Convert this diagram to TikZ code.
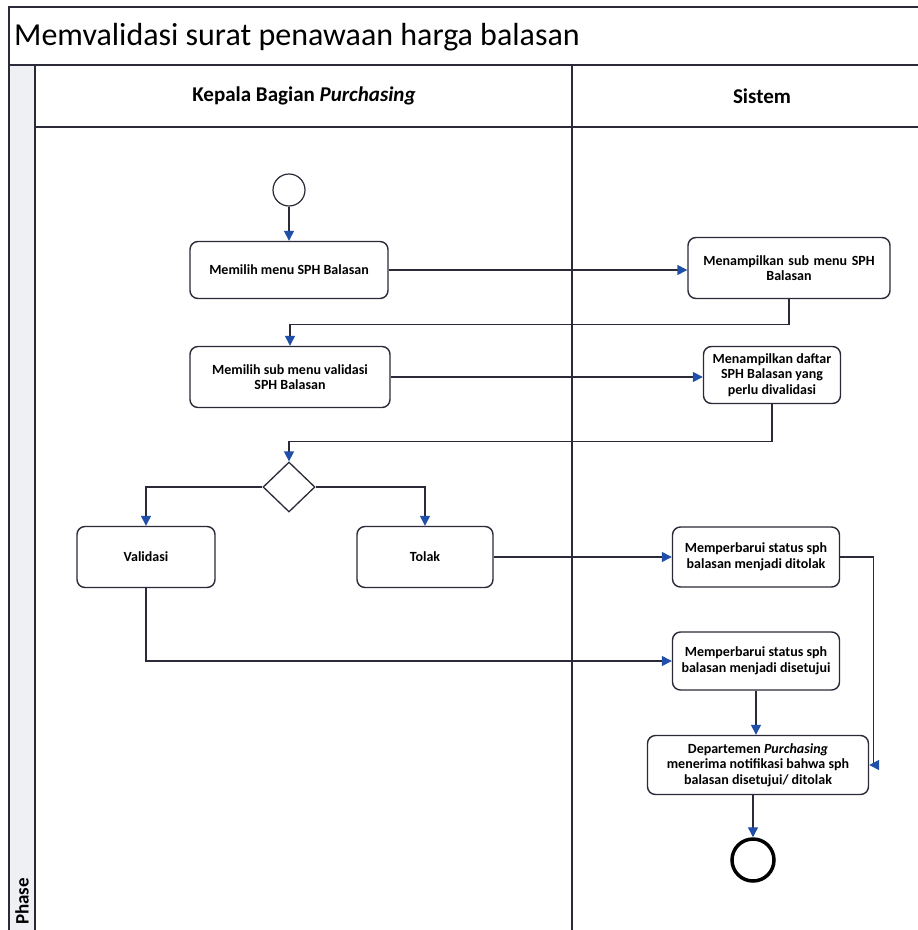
\documentclass[tikz,border=0pt]{standalone}
\usepackage{fontspec}
\setmainfont{Carlito}
\usetikzlibrary{arrows.meta,shapes.geometric}
\definecolor{linec}{HTML}{2A2A38}
\definecolor{arrowblue}{HTML}{1F4FA8}
\definecolor{stripc}{HTML}{EEF0F4}
\tikzset{
  act/.style={draw=linec, line width=1.4pt, rounded corners=8pt, fill=white, align=center,
    font=\fontsize{14}{15.5}\selectfont\bfseries, inner sep=1pt},
  flow/.style={draw=linec, line width=1.4pt, -{Triangle[length=10pt,width=10pt,color=arrowblue,fill=arrowblue]}},
  frame/.style={draw=linec, line width=2pt},
}
\begin{document}
\begin{tikzpicture}[x=1pt,y=-1pt]
\useasboundingbox (0,0) rectangle (918,930);
% background
\fill[white] (0,0) rectangle (918,930);
\fill[stripc] (9,65) rectangle (35,930);
% frame lines
\draw[frame] (9,930) -- (9,7) -- (918,7);
\draw[frame, line width=2.6pt] (9,65) -- (918,65);
\draw[frame] (35,65) -- (35,930);
\draw[frame, line width=2.6pt] (35,127) -- (918,127);
\draw[frame] (572,65) -- (572,930);
% title and headers
\node[anchor=west, font=\fontsize{32}{36}\selectfont, inner sep=0pt] (title) at (14,37) {Memvalidasi surat penawaan harga balasan};
\node[font=\fontsize{21}{24}\selectfont\bfseries] (lane1) at (304,96) {Kepala Bagian \textit{Purchasing}};
\node[font=\fontsize{21}{24}\selectfont\bfseries] (lane2) at (762,96) {Sistem};
\node[rotate=90, anchor=west, font=\fontsize{19}{21}\selectfont\bfseries, inner sep=1pt] (phase) at (22,926) {Phase};
% nodes
\node[draw=linec, line width=1.2pt, circle, minimum size=32pt, inner sep=0pt, fill=white] (start) at (289,190) {};
\node[act, minimum width=198pt, minimum height=57pt] (A1) at (289,270) {Memilih menu SPH Balasan};
\node[act, minimum width=202pt, minimum height=61pt, text width=195pt] (S1) at (789,268) {Menampilkan sub menu SPH\\Balasan};
\node[act, minimum width=200pt, minimum height=61pt] (A2) at (290,377) {Memilih sub menu validasi\\SPH Balasan};
\node[act, minimum width=137pt, minimum height=57pt, inner sep=0pt] (S2) at (772,375) {Menampilkan daftar\\SPH Balasan yang\\perlu divalidasi};
\node[draw=linec, line width=1.3pt, diamond, minimum width=52pt, minimum height=50pt, inner sep=0pt, fill=white] (D) at (289,487) {};
\node[act, minimum width=138pt, minimum height=61pt] (V) at (146,557) {Validasi};
\node[act, minimum width=136pt, minimum height=61pt] (T) at (425,557) {Tolak};
\node[act, minimum width=167pt, minimum height=60pt] (S3) at (756,557) {Memperbarui status sph\\balasan menjadi ditolak};
\node[act, minimum width=167pt, minimum height=58pt] (S4) at (756,661) {Memperbarui status sph\\balasan menjadi disetujui};
\node[act, minimum width=221pt, minimum height=59pt] (S5) at (758,765) {Departemen \textit{Purchasing}\\menerima notifikasi bahwa sph\\balasan disetujui/ ditolak};
\node[draw=black, line width=3.5pt, circle, minimum size=42pt, inner sep=0pt, fill=white] (E) at (753,860) {};
% connectors
\draw[flow] (start) -- (A1);
\draw[flow] (A1.east) -- (A1.east -| S1.west);
\draw[flow] (S1.south) -- ++(0,25) -| (A2.north);
\draw[flow] (A2.east) -- (A2.east -| S2.west);
\draw[flow] (S2.south) -- ++(0,37) -| (D.north);
\draw[flow] (D.west) -| (V.north);
\draw[flow] (D.east) -| (T.north);
\draw[flow] (T.east) -- (T.east -| S3.west);
\draw[flow] (V.south) |- (S4.west);
\draw[flow] (S3.east) -- ++(33,0) |- (S5.east);
\draw[flow] (S4.south) -- (S4.south |- S5.north);
\draw[flow] (E.north |- S5.south) -- (E.north);
\end{tikzpicture}
\end{document}
